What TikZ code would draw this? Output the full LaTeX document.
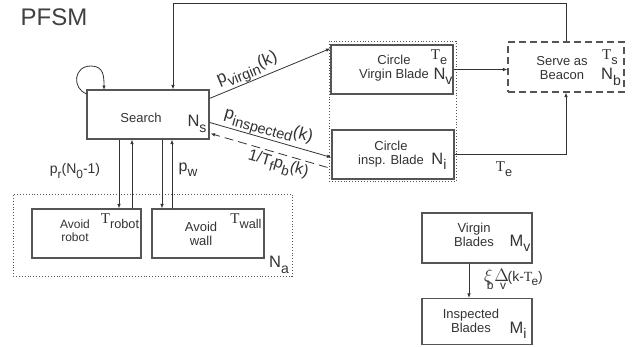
\documentclass[tikz,border=0pt]{standalone}
\usepackage{fontspec}
\setmainfont{Liberation Sans}
\newfontfamily\serif{Liberation Serif}
\usetikzlibrary{arrows.meta,calc}
\newcommand\dn[1]{\raisebox{-0.32em}{\scalebox{0.85}{#1}}}
\newcommand\Tt{{\serif T}}
\definecolor{ink}{HTML}{333333}
\definecolor{edge}{HTML}{555555}
\begin{document}
\begin{tikzpicture}[x=1pt,y=-1pt,
  box/.style={draw=edge,line width=1.1pt,rectangle,inner sep=0pt},
  cont/.style={draw=edge,line width=0.9pt,dotted,rectangle,inner sep=0pt},
  lbl/.style={text=ink,font=\fontsize{13}{14}\selectfont,align=center,inner sep=0pt},
  bigN/.style={text=ink,font=\fontsize{16.5}{17}\selectfont,inner sep=0pt},
  tlab/.style={text=ink,font=\fontsize{14}{15}\selectfont,inner sep=0pt},
  rlab/.style={text=ink,font=\fontsize{17}{18}\selectfont,inner sep=0pt},
  conn/.style={draw=black!80,line width=0.8pt},
  arr/.style={conn,-{Latex[length=4.5pt,width=3.5pt]}},
]
\useasboundingbox (0,0) rectangle (637,346);
\fill[white] (0,0) rectangle (637,346);

% title
\node[text=black!75,font=\fontsize{24}{26}\selectfont,inner sep=0pt] (title) at (54,17) {PFSM};

% boxes
\node[box,minimum width=122pt,minimum height=49pt] (search) at (148,114.5) {};
\node[cont,minimum width=279pt,minimum height=82pt] (na) at (152.5,235) {};
\node[box,minimum width=109pt,minimum height=49pt] (robot) at (86.5,233.5) {};
\node[box,minimum width=112pt,minimum height=49pt] (wall) at (208,233.5) {};
\node[cont,minimum width=127pt,minimum height=140pt] (circ) at (392.5,111) {};
\node[box,minimum width=122pt,minimum height=49pt] (virgin) at (392,69.5) {};
\node[box,minimum width=122pt,minimum height=49pt] (insp) at (393,154.5) {};
\node[box,dashed,dash pattern=on 7pt off 4pt,minimum width=116pt,minimum height=50pt] (serve) at (566,67) {};
\node[box,minimum width=110pt,minimum height=50pt] (vb) at (477,238) {};
\node[box,minimum width=110pt,minimum height=46pt] (ib) at (477,321.5) {};

% texts in boxes
\node[lbl] (tsearch) at (141,118) {Search};
\node[bigN] (ns) at (197,124) {N\dn{s}};
\node[lbl,font=\fontsize{12}{13}\selectfont] (trobot) at (75,231) {Avoid\\robot};
\node[tlab,font=\fontsize{15}{16}\selectfont] (Trob) at (120,221) {\Tt\dn{robot}};
\node[lbl] (twall) at (201,234) {Avoid\\wall};
\node[tlab,font=\fontsize{15}{16}\selectfont] (Twal) at (246,221) {\Tt\dn{wall}};
\node[bigN] (nna) at (279,265) {N\dn{a}};
\node[lbl] (tvirgin) at (394,68) {Circle\\Virgin Blade};
\node[tlab,font=\fontsize{15}{16}\selectfont] (tev) at (439,57) {\Tt\dn{e}};
\node[bigN] (nv) at (443,76) {N\dn{v}};
\node[lbl] (tinsp) at (391,154) {Circle\\insp. Blade};
\node[bigN] (ni) at (439,161) {N\dn{i}};
\node[lbl] (tserve) at (562,68) {Serve as\\Beacon};
\node[tlab,font=\fontsize{15}{16}\selectfont] (tsv) at (610,57) {\Tt\dn{s}};
\node[bigN] (nb) at (611,77) {N\dn{b}};
\node[lbl] (tvb) at (474,235) {Virgin\\Blades};
\node[bigN] (mv) at (520,243) {M\dn{v}};
\node[lbl] (tib) at (471,321) {Inspected\\Blades};
\node[bigN] (mi) at (518,330) {M\dn{i}};

% connectors
\coordinate (topc) at (173,3);
\draw[arr] (serve.north) |- (topc) -- (search.north -| topc);
\coordinate (lpst) at (87,94);
\coordinate (lpen) at (104,90);
\draw[arr] (lpst) .. controls (72,89) and (73,66) .. (91,66) .. controls (104,66) and (104,77) .. (lpen);
\draw[arr] ($(search.north east)+(0,9)$) -- ($(virgin.north west)+(0,4)$);
\draw[arr] ($(search.north east)+(0,33)$) -- ($(insp.north west)+(0,28)$);
\draw[arr,dash pattern=on 9pt off 5pt] ($(insp.north west)+(-4,38)$) -- ($(search.south east)+(1,-6)$);
\draw[arr] (virgin.east) -- (virgin.east -| serve.west);
\draw[arr] (insp.east) -| (serve.south);

\coordinate (x1) at (119,0);
\coordinate (x2) at (132,0);
\coordinate (x3) at (162,0);
\coordinate (x4) at (172,0);
\coordinate (x5) at (469,0);
\draw[arr] (search.south -| x1) -- (robot.north -| x1);
\draw[arr] (robot.north -| x2) -- (search.south -| x2);
\draw[arr] (search.south -| x3) -- (wall.north -| x3);
\draw[arr] (wall.north -| x4) -- (search.south -| x4);
\draw[arr] (vb.south -| x5) -- (ib.north -| x5);

% connector labels
\node[tlab] (lpr) at (75,171) {p\dn{r}(N\dn{0}-1)};
\node[tlab,font=\fontsize{16}{17}\selectfont] (lpw) at (188,170) {p\dn{w}};
\node[rlab,rotate=22.3] (lpv) at (248,71) {p\dn{virgin}(k)};
\node[rlab,rotate=-15.9] (lpi) at (268,128) {p\dn{inspected}(k)};
\node[rlab,rotate=-16,font=\fontsize{16}{17}\selectfont] (lpb) at (278,165) {1/T\dn{f}p\dn{b}(k)};
\node[tlab,font=\fontsize{15}{16}\selectfont] (lte) at (504,169) {\Tt\dn{e}};
\node[tlab,anchor=west] (lxi) at (484,279) {\scalebox{1.25}{$\xi$}\kern-6pt\raisebox{-0.55em}{\fontsize{12}{12}\selectfont b}\kern1pt\scalebox{1.25}{$\Delta$}\kern-9pt\raisebox{-0.55em}{\fontsize{12}{12}\selectfont v}\kern1.5pt(k-\Tt\kern-1pt\dn{e})};
\end{tikzpicture}
\end{document}
